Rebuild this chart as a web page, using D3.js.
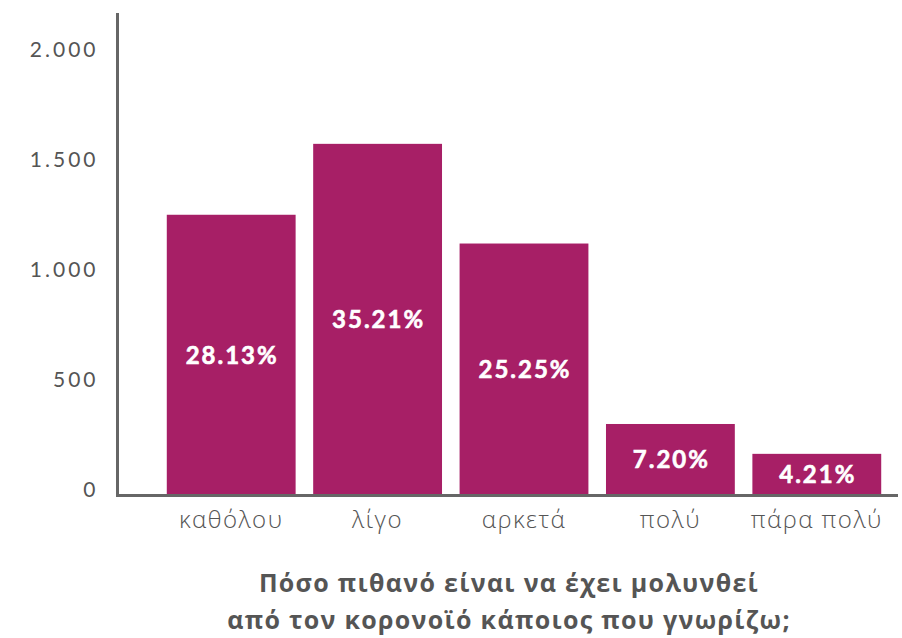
<!DOCTYPE html>
<html>
<head>
<meta charset="utf-8">
<script src="https://cdn.jsdelivr.net/npm/d3@7"></script>
<style>
  body { margin: 0; background: #fff; }
  svg { display: block; }
</style>
</head>
<body>
<svg id="chart" width="902" height="638"></svg>
<script>
// answers and counts
const categories = ['καθόλου', 'λίγο', 'αρκετά', 'πολύ', 'πάρα πολύ'];
const counts = [1281, 1604, 1150, 328, 192];
const percents = ['28.13%', '35.21%', '25.25%', '7.20%', '4.21%'];
const yTicks = [0, 500, 1000, 1500, 2000];
const titleLines = ['Πόσο πιθανό είναι να έχει μολυνθεί', 'από τον κορονοϊό κάποιος που γνωρίζω;'];

const data = categories.map((c, i) => ({ cat: c, value: counts[i], pct: percents[i] }));

const svg = d3.select('#chart');
const barColor = '#a71f66';
const axisColor = '#666666';
const textColor = '#555555';

const x = d3.scaleBand()
  .domain(categories)
  .range([158, 890])
  .paddingInner(0.12)
  .paddingOuter(0.06);

const y = d3.scaleLinear()
  .domain([0, 2200])
  .range([496, 13]);

// bars
svg.append('g').selectAll('rect')
  .data(data)
  .enter()
  .append('rect')
  .attr('x', d => x(d.cat))
  .attr('width', x.bandwidth())
  .attr('y', d => y(d.value))
  .attr('height', d => y(0) - y(d.value))
  .attr('fill', barColor);

// percent labels in the middle of each bar
svg.append('g').selectAll('text')
  .data(data)
  .enter()
  .append('text')
  .attr('x', d => x(d.cat) + x.bandwidth() / 2 + 1)
  .attr('y', d => (y(d.value) + y(0)) / 2)
  .attr('dy', '0.35em')
  .attr('text-anchor', 'middle')
  .attr('fill', '#fff')
  .attr('stroke', '#fff')
  .attr('stroke-width', 0.6)
  .style('font-family', 'Lato, "Open Sans", sans-serif')
  .style('font-weight', 'bold')
  .style('font-size', '24px')
  .style('letter-spacing', '2px')
  .text(d => d.pct);

// y axis
const yAxis = d3.axisLeft(y)
  .tickValues(yTicks)
  .tickSize(0)
  .tickPadding(19)
  .tickFormat(d => d3.format(',')(d).replace(/,/g, '.'));

const gy = svg.append('g')
  .attr('transform', 'translate(117.5,0)')
  .call(yAxis);
gy.select('.domain').remove();
gy.selectAll('text')
  .attr('dy', 0)
  .attr('fill', textColor)
  .style('font-family', 'Lato, "Open Sans", sans-serif')
  .style('font-weight', 400)
  .style('font-size', '21px')
  .style('letter-spacing', '3px');

// x axis labels
const xAxis = d3.axisBottom(x).tickSize(0).tickPadding(15);
const gx = svg.append('g')
  .attr('transform', 'translate(0,' + y(0) + ')')
  .call(xAxis);
gx.select('.domain').remove();
gx.selectAll('text')
  .attr('fill', textColor)
  .style('font-family', '"Open Sans", sans-serif')
  .style('font-weight', 300)
  .style('font-size', '24px')
  .style('letter-spacing', '1.5px');

// axis lines
svg.append('line')
  .attr('x1', 117.5).attr('x2', 117.5)
  .attr('y1', 13).attr('y2', 497)
  .attr('stroke', axisColor).attr('stroke-width', 3);
svg.append('line')
  .attr('x1', 116).attr('x2', 898)
  .attr('y1', 495.5).attr('y2', 495.5)
  .attr('stroke', axisColor).attr('stroke-width', 3);

// title under the chart
svg.append('text')
  .attr('x', 509)
  .attr('y', 583)
  .attr('text-anchor', 'middle')
  .attr('fill', textColor)
  .style('font-family', '"Open Sans", sans-serif')
  .style('font-weight', 'bold')
  .style('font-size', '25px')
  .style('letter-spacing', '1.3px')
  .selectAll('tspan')
  .data(titleLines)
  .enter()
  .append('tspan')
  .attr('x', 509)
  .attr('dy', (d, i) => i === 0 ? '0.35em' : '37px')
  .text(d => d);
</script>
</body>
</html>
